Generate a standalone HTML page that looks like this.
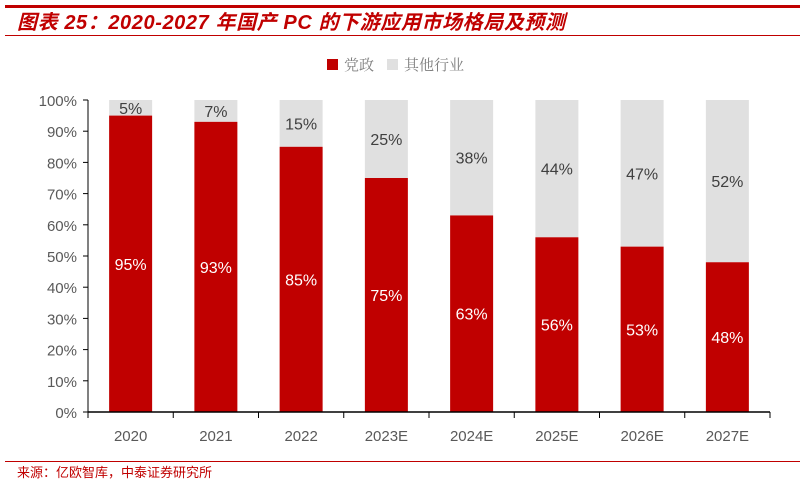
<!DOCTYPE html>
<html><head><meta charset="utf-8"><style>
body{margin:0;background:#fff;width:803px;height:484px;overflow:hidden;font-family:"Liberation Sans","Noto Sans CJK SC",sans-serif}
</style></head><body>
<svg width="803" height="484" xmlns="http://www.w3.org/2000/svg">
<rect x="5" y="5" width="795" height="3" fill="#c00000"/>
<text x="17" y="29" font-size="20" font-weight="bold" font-style="italic" fill="#c00000" textLength="548" lengthAdjust="spacing" font-family="Liberation Sans, Noto Sans CJK SC, sans-serif">图表 25：2020-2027 年国产 PC 的下游应用市场格局及预测</text>
<rect x="5" y="35" width="795" height="1" fill="#c00000"/>
<g>
<rect x="327" y="59" width="11" height="11" fill="#c00000"/>
<text x="344" y="70" font-size="15" fill="#7f7f7f" font-family="Noto Serif CJK SC, serif">党政</text>
<rect x="387" y="59" width="11" height="11" fill="#e0e0e0"/>
<text x="404" y="70" font-size="15" fill="#7f7f7f" font-family="Noto Serif CJK SC, serif">其他行业</text>
</g>
<g id="plot"></g>
<rect x="5" y="461" width="795" height="1" fill="#c00000"/>
<text x="17" y="477" font-size="13" fill="#c00000">来源：亿欧智库，中泰证券研究所</text>
</svg>
<script>
const categories=["2020","2021","2022","2023E","2024E","2025E","2026E","2027E"];
const partyGov=[95,93,85,75,63,56,53,48];
const other=[5,7,15,25,38,44,47,52];
const yTicks=[0,10,20,30,40,50,60,70,80,90,100];
const NS="http://www.w3.org/2000/svg";
const g=document.getElementById('plot');
const x0=88,x1=770,y0=412,yTop=100,band=(x1-x0)/categories.length,bw=43;
const y=v=>y0-(v/100)*(y0-yTop);
function mk(t,a,txt){const e=document.createElementNS(NS,t);for(const k in a)e.setAttribute(k,a[k]);if(txt!==undefined)e.textContent=txt;g.appendChild(e);return e;}
categories.forEach((c,i)=>{
  const cx=x0+band*(i+0.5);
  const top=Math.min(100,partyGov[i]+other[i]);
  let r=mk('rect',{x:cx-bw/2,y:y(top),width:bw,height:y(partyGov[i])-y(top),fill:'#e0e0e0'});
  
  
  r=mk('rect',{x:cx-bw/2,y:y(partyGov[i]),width:bw,height:y0-y(partyGov[i]),fill:'#c00000'});
  
  
  let t=mk('text',{x:cx,y:y(partyGov[i]/2)+6,'font-size':16,fill:'#fff','text-anchor':'middle'},partyGov[i]+'%');
  
  
  t=mk('text',{x:cx,y:y((top+partyGov[i])/2)+6,'font-size':16,fill:'#404040','text-anchor':'middle'},other[i]+'%');
  
  
  t=mk('text',{x:cx,y:y0+29,'font-size':15,fill:'#595959','text-anchor':'middle'},c);
  
  
});
for(let i=0;i<=categories.length;i++){
  const l=mk('line',{x1:x0+band*i,x2:x0+band*i,y1:y0,y2:y0+6,stroke:'#000','stroke-width':1});
  
  
}
yTicks.forEach(v=>{
  const l=mk('line',{x1:x0-5,x2:x0,y1:y(v),y2:y(v),stroke:'#000','stroke-width':1});
  
  
  const t=mk('text',{x:x0-11,y:y(v)+6,'font-size':15,fill:'#595959','text-anchor':'end'},v+'%');
  
  
});
let a=mk('line',{x1:x0,x2:x0,y1:yTop,y2:y0,stroke:'#000','stroke-width':1});


a=mk('line',{x1:x0,x2:x1,y1:y0,y2:y0,stroke:'#000','stroke-width':1.5});


</script>
</body></html>
